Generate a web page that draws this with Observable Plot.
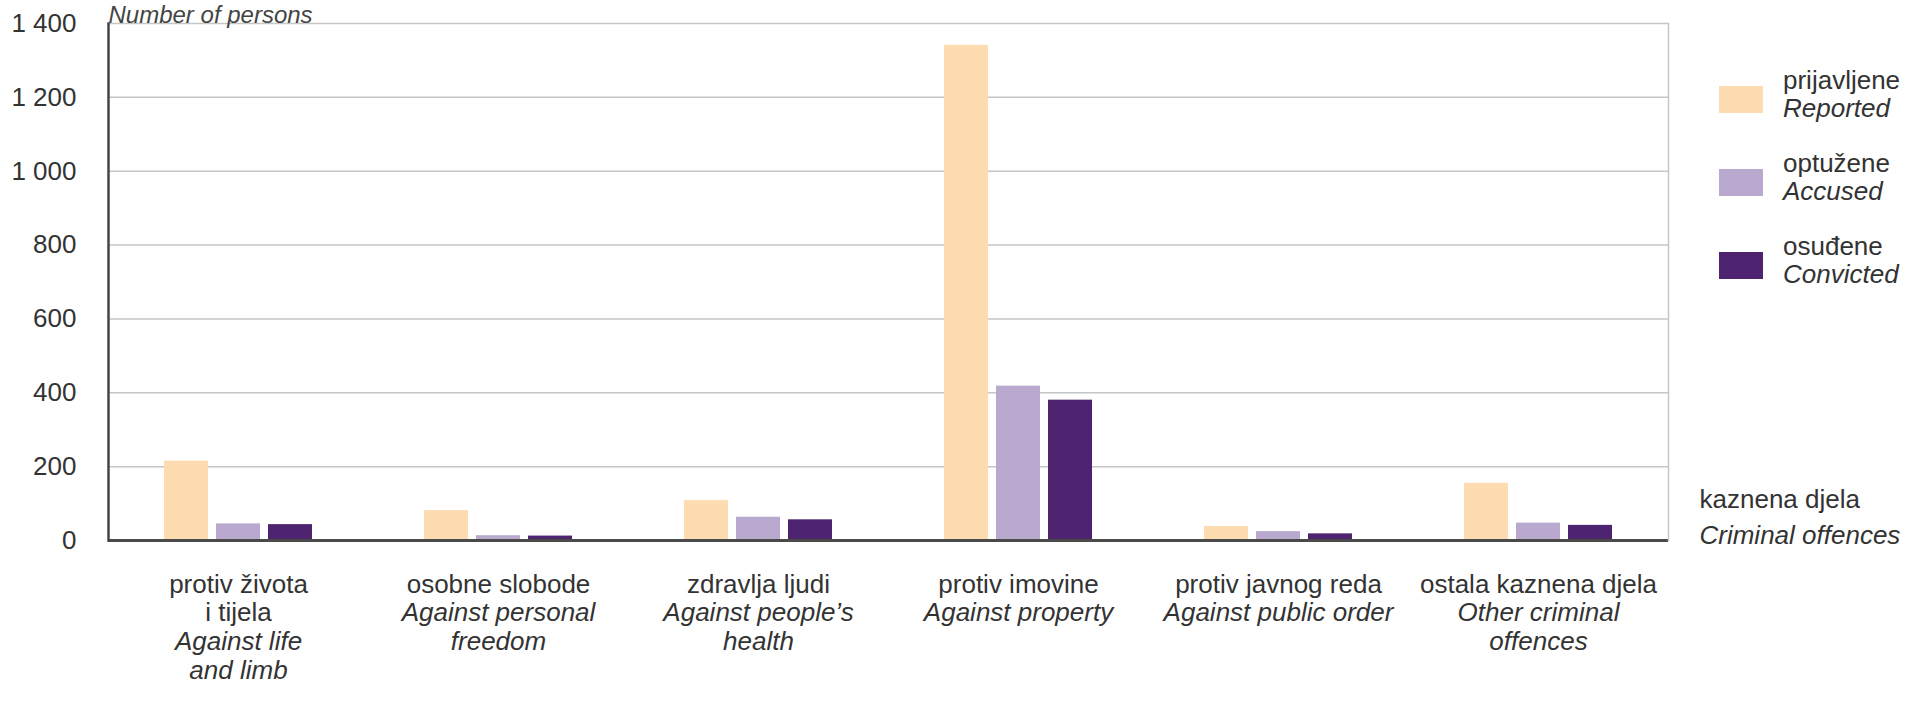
<!DOCTYPE html>
<html>
<head>
<meta charset="utf-8">
<script src="https://cdn.jsdelivr.net/npm/d3@7"></script>
<script src="https://cdn.jsdelivr.net/npm/@observablehq/plot@0.6"></script>
<style>
  html, body { margin: 0; padding: 0; background: #ffffff; }
  #wrap { position: relative; width: 1905px; height: 703px; overflow: hidden; font-family: "Liberation Sans", Arial, sans-serif; color: #333; }
  #legend { position: absolute; left: 1719px; top: 71px; font-size: 26px; }
  .item { display: flex; align-items: center; height: 56px; margin-bottom: 27px; }
  .sw { width: 44px; height: 27px; margin-right: 20px; flex: none; }
  .txt { line-height: 28px; white-space: nowrap; position: relative; top: -5px; }
  .txt i { font-style: italic; }
</style>
</head>
<body>
<div id="wrap"></div>
<script>
// ---- data ----
const categories = ["protiv života i tijela", "osobne slobode", "zdravlja ljudi", "protiv imovine", "protiv javnog reda", "ostala kaznena djela"];
const crLabels = ["protiv života\ni tijela", "osobne slobode", "zdravlja ljudi", "protiv imovine", "protiv javnog reda", "ostala kaznena djela"];
const enLabels = ["Against life\nand limb", "Against personal\nfreedom", "Against people’s\nhealth", "Against property", "Against public order", "Other criminal\noffences"];
const seriesKeys = ["Reported", "Accused", "Convicted"];
const seriesCr = ["prijavljene", "optužene", "osuđene"];
const reported = [215, 81, 108, 1341, 38, 155];
const accused = [45, 13, 63, 418, 24, 47];
const convicted = [43, 12, 56, 380, 18, 41];
const colors = ["#fddcb2", "#b9a9cf", "#4e2470"];
const yTicks = [0, 200, 400, 600, 800, 1000, 1200, 1400];
const yTitle = "Number of persons";
const xTitleCr = "kaznena djela";
const xTitleEn = "Criminal offences";

// ---- table ----
const seriesValues = [reported, accused, convicted];
const table = [];
categories.forEach((c, i) => {
  seriesKeys.forEach((s, j) => table.push({category: c, series: s, value: seriesValues[j][i]}));
});
const labelRows = categories.map((c, i) => ({
  category: c,
  cr: crLabels[i],
  en: "\n".repeat(crLabels[i].split("\n").length) + enLabels[i]
}));

const fmt = d => d3.format(",")(d).replace(/,/g, " ");

const chart = Plot.plot({
  width: 1905,
  height: 703,
  marginLeft: 107,
  marginRight: 237,
  marginTop: 23,
  marginBottom: 163,
  style: {fontSize: "26px", fontFamily: "'Liberation Sans', Arial, sans-serif", color: "#333", background: "transparent", overflow: "visible"},
  fx: {domain: categories, padding: 0, axis: null, label: null},
  x: {domain: seriesKeys, paddingInner: 0.16, paddingOuter: 1.06, axis: null},
  y: {domain: [0, 1400], axis: null},
  color: {domain: seriesKeys, range: colors},
  marks: [
    Plot.gridY({ticks: yTicks.filter(d => d > 0), stroke: "#c6c6c6", strokeOpacity: 1, strokeWidth: 1.5}),
    Plot.barY(table, {fx: "category", x: "series", y: "value", fill: "series"}),
    Plot.ruleY([0], {stroke: "#4a4a4a", strokeWidth: 3}),
    Plot.frame({anchor: "left", facetAnchor: "left", stroke: "#444", strokeWidth: 2.5}),
    Plot.frame({anchor: "right", facetAnchor: "right", stroke: "#c6c6c6", strokeWidth: 1.5}),
    Plot.axisY({ticks: yTicks, tickFormat: fmt, tickSize: 0, tickPadding: 32, label: null, fill: "#333"}),
    Plot.text(labelRows, {fx: "category", text: "cr", frameAnchor: "bottom", lineAnchor: "top", dy: 32, lineHeight: 1.1, fill: "#333"}),
    Plot.text(labelRows, {fx: "category", text: "en", frameAnchor: "bottom", lineAnchor: "top", dy: 32, lineHeight: 1.1, fill: "#333", fontStyle: "italic"}),
    Plot.text([yTitle], {fx: () => categories[0], frameAnchor: "top-left", textAnchor: "start", lineAnchor: "bottom", dy: -1, fontSize: 24, fontStyle: "italic", fill: "#444"}),
    Plot.text([xTitleCr], {fx: () => categories[categories.length - 1], frameAnchor: "bottom-right", textAnchor: "start", lineAnchor: "middle", dx: 31, dy: -41, fill: "#333"}),
    Plot.text([xTitleEn], {fx: () => categories[categories.length - 1], frameAnchor: "bottom-right", textAnchor: "start", lineAnchor: "middle", dx: 31, dy: -5, fill: "#333", fontStyle: "italic"})
  ]
});

const wrap = document.getElementById("wrap");
wrap.appendChild(chart);

// legend
const legend = document.createElement("div");
legend.id = "legend";
seriesKeys.forEach((s, j) => {
  const item = document.createElement("div");
  item.className = "item";
  const sw = document.createElement("div");
  sw.className = "sw";
  sw.style.background = colors[j];
  const txt = document.createElement("div");
  txt.className = "txt";
  txt.innerHTML = seriesCr[j] + "<br><i>" + s + "</i>";
  item.appendChild(sw);
  item.appendChild(txt);
  legend.appendChild(item);
});
wrap.appendChild(legend);
</script>
</body>
</html>
